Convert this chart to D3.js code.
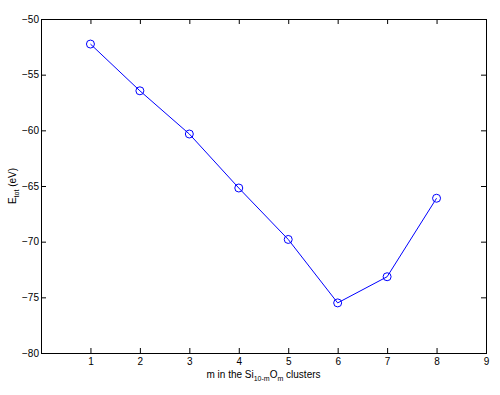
<!DOCTYPE html>
<html>
<head>
  <meta charset="utf8">
  <script src="https://d3js.org/d3.v7.min.js"></script>
  <style>
    body { margin: 0; background: #fff; }
    text { font-family: "Liberation Sans", Arial, sans-serif; font-size: 10px; fill: #000; }
  </style>
</head>
<body>
  <svg id="chart" width="500" height="395"></svg>
  <script>
    var mValues = [1, 2, 3, 4, 5, 6, 7, 8];
    var energies = [-52.25, -56.45, -60.33, -65.18, -69.8, -75.5, -73.15, -66.1];
    var xTicks = [1, 2, 3, 4, 5, 6, 7, 8, 9];
    var yTicks = [-80, -75, -70, -65, -60, -55, -50];

    var chart = d3.select('#chart');
    var margin = { top: 19, right: 14, bottom: 42, left: 41 };
    var width = 500 - margin.left - margin.right;
    var height = 395 - margin.top - margin.bottom;

    var x = d3.scaleLinear().domain([0, 9]).range([0, width]);
    var y = d3.scaleLinear().domain([-80, -50]).range([height, 0]);

    var g = chart.append('g')
      .attr('transform', 'translate(' + margin.left + ',' + margin.top + ')');

    function styleAxis(sel) {
      sel.select('.domain').remove();
      sel.selectAll('.tick line').attr('stroke', '#000');
      sel.selectAll('.tick text').style('font-family', '"Liberation Sans", Arial, sans-serif').style('font-size', '10px').attr('fill', '#000');
    }

    g.append('g')
      .attr('transform', 'translate(0,' + height + ')')
      .call(d3.axisBottom(x).tickValues(xTicks).tickSize(-5).tickPadding(5).tickFormat(d3.format('d')))
      .call(styleAxis);
    g.append('g')
      .call(d3.axisTop(x).tickValues(xTicks).tickSize(-5).tickFormat(''))
      .call(styleAxis);
    g.append('g')
      .call(d3.axisLeft(y).tickValues(yTicks).tickSize(-5).tickPadding(2).tickFormat(d3.format('d')))
      .call(styleAxis);
    g.append('g')
      .attr('transform', 'translate(' + width + ',0)')
      .call(d3.axisRight(y).tickValues(yTicks).tickSize(-5).tickFormat(''))
      .call(styleAxis);

    g.append('rect')
      .attr('x', 0.5).attr('y', 0.5)
      .attr('width', width).attr('height', height)
      .attr('fill', 'none').attr('stroke', '#000').attr('stroke-width', 1);

    var line = d3.line().x(function (d, i) { return x(mValues[i]); }).y(function (d) { return y(d); });

    g.append('path')
      .datum(energies)
      .attr('d', line)
      .attr('fill', 'none')
      .attr('stroke', '#0000ff')
      .attr('stroke-width', 1);

    g.selectAll('.marker')
      .data(energies)
      .enter()
      .append('circle')
      .attr('class', 'marker')
      .attr('cx', function (d, i) { return x(mValues[i]); })
      .attr('cy', function (d) { return y(d); })
      .attr('r', 4)
      .attr('fill', 'none')
      .attr('stroke', '#0000ff')
      .attr('stroke-width', 1);

    var xl = chart.append('text')
      .attr('x', margin.left + width / 2)
      .attr('y', 378)
      .attr('text-anchor', 'middle');
    xl.append('tspan').text('m in the Si');
    xl.append('tspan').attr('dy', 3).style('font-size', '7px').text('10-m');
    xl.append('tspan').attr('dy', -3).text('O');
    xl.append('tspan').attr('dy', 3).style('font-size', '7px').text('m');
    xl.append('tspan').attr('dy', -3).text(' clusters');

    var yl = chart.append('text')
      .attr('transform', 'translate(16,' + (margin.top + height / 2) + ') rotate(-90)')
      .attr('text-anchor', 'middle');
    yl.append('tspan').text('E');
    yl.append('tspan').attr('dy', 3).style('font-size', '7px').text('tot');
    yl.append('tspan').attr('dy', -3).text(' (eV)');
  </script>
</body>
</html>
